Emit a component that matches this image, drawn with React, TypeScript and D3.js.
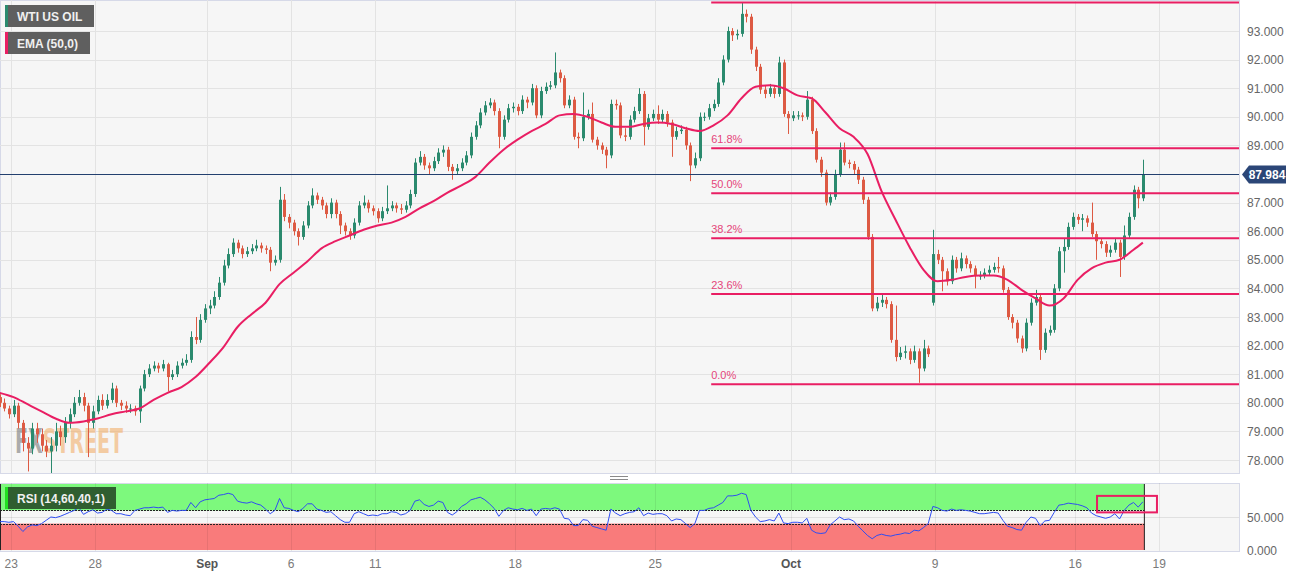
import { useEffect, useRef } from "react";
import * as d3 from "d3";

// 4H candles, Aug 22 - Oct 18 (open = previous close unless listed in gapOpens)
const firstOpen = 80.2;
const closes = [
  80.0, 79.8, 79.6, 79.9, 79.3, 78.6, 78.4, 79.1, 78.9, 78.5,
  78.3, 78.5, 79.0, 78.8, 79.3, 79.6, 80.0, 80.2, 79.9, 79.3,
  79.7, 80.1, 79.9, 80.1, 80.5, 80.0, 79.9, 79.8, 79.8, 79.7,
  80.5, 81.0, 81.2, 81.3, 81.2, 81.35, 80.9, 81.0, 81.3, 81.4,
  81.5, 82.3, 82.2, 82.9, 83.3, 83.4, 83.7, 84.2, 84.8, 85.2,
  85.6, 85.4, 85.2, 85.3, 85.4, 85.5, 85.4, 85.35, 84.9, 85.0,
  87.1, 86.5, 86.3, 86.0, 85.8, 86.2, 86.9, 87.25, 87.1, 86.9,
  86.6, 87.0, 86.6, 86.2, 86.0, 85.85, 86.3, 86.9, 87.0, 86.8,
  86.7, 86.45, 86.7, 86.8, 86.9, 86.8, 86.75, 86.9, 87.3, 88.4,
  88.6, 88.3, 88.2, 88.45, 88.75, 88.85, 88.25, 88.1, 88.2, 88.4,
  88.65, 89.3, 89.7, 90.15, 90.4, 90.5, 90.2, 89.3, 89.9, 90.3,
  90.35, 90.2, 90.6, 90.5, 91.0, 90.05, 90.9, 91.05, 91.1, 91.55,
  91.35, 90.4, 90.6, 89.3, 89.25, 90.0, 90.1, 89.2, 89.0, 88.85,
  88.65, 90.45, 90.4, 89.35, 89.3, 89.9, 90.2, 90.8, 89.65, 89.95,
  90.1, 89.9, 90.1, 89.8, 89.3, 89.5, 89.55, 89.0, 88.3, 88.55,
  90.0, 90.0, 90.3, 90.45, 91.2, 92.0, 93.0, 92.85, 92.9, 93.6,
  93.5, 92.35, 91.75, 90.95, 90.8, 91.0, 90.8, 91.9, 90.1, 89.95,
  90.05, 90.05, 90.0, 90.6, 89.5, 88.5, 88.05, 87.0, 87.2, 88.0,
  88.85, 88.4, 88.35, 88.15, 87.8, 87.1, 85.8, 83.3, 83.5, 83.6,
  83.45, 82.2, 81.6, 81.75, 81.8, 81.5, 81.8, 81.2, 81.9, 81.7,
  85.2, 85.0, 84.6, 84.25, 85.0, 84.7, 85.05, 84.85, 84.7, 84.45,
  84.45, 84.55, 84.65, 84.75, 84.7, 83.95, 83.0, 82.8, 82.25, 81.9,
  82.8, 83.5, 83.7, 81.85, 82.45, 82.55, 84.0, 85.3, 85.45, 86.15,
  86.5, 86.4, 86.45, 86.3, 85.9, 85.65, 85.55, 85.25, 85.35, 85.6,
  85.1, 85.85, 86.5, 87.45, 87.15, 87.984,
];
const highs = [
  80.3, 80.15, 79.9, 80.1, 80.0, 79.4, 78.8, 79.3, 79.3, 79.1,
  78.7, 78.8, 79.3, 79.2, 79.5, 79.8, 80.2, 80.45, 80.35, 80.0,
  79.9, 80.25, 80.3, 80.3, 80.7, 80.6, 80.1, 80.05, 79.95, 79.9,
  80.6, 81.15, 81.35, 81.45, 81.4, 81.5, 81.4, 81.15, 81.45, 81.55,
  81.7, 82.5, 83.0, 83.1, 83.45, 83.6, 83.9, 84.4, 85.0, 85.4,
  85.75, 85.7, 85.5, 85.45, 85.55, 85.7, 85.6, 85.5, 85.45, 85.15,
  87.55, 87.3, 86.6, 86.4, 86.1, 86.35, 87.05, 87.5, 87.35, 87.2,
  87.0, 87.15, 87.1, 86.7, 86.3, 86.1, 86.45, 87.05, 87.25, 87.1,
  86.9, 86.8, 86.85, 87.6, 87.05, 87.0, 86.95, 87.05, 87.45, 88.55,
  88.8, 88.7, 88.4, 88.6, 88.9, 89.0, 88.95, 88.35, 88.35, 88.55,
  88.8, 89.45, 89.85, 90.3, 90.55, 90.65, 90.6, 90.3, 90.05, 90.45,
  90.5, 90.45, 90.75, 90.7, 91.15, 91.1, 91.05, 91.2, 91.25, 92.25,
  91.65, 91.45, 90.75, 90.7, 89.45, 90.85, 90.25, 90.5, 89.3, 89.1,
  88.95, 90.6, 90.6, 90.5, 89.6, 90.05, 90.35, 91.0, 90.9, 90.1,
  90.25, 90.4, 90.25, 90.2, 89.9, 89.65, 89.7, 89.65, 89.1, 88.75,
  90.15, 90.15, 90.45, 90.6, 91.35, 92.15, 93.15, 93.1, 93.05, 94.0,
  93.75, 93.6, 92.45, 91.85, 91.1, 91.15, 91.1, 92.1, 92.0, 90.2,
  90.2, 90.2, 90.15, 90.9, 90.7, 89.6, 88.6, 88.15, 87.35, 88.15,
  89.1, 89.1, 88.5, 88.45, 88.25, 87.9, 87.2, 85.9, 83.7, 83.8,
  83.7, 83.55, 83.4, 81.95, 82.0, 81.9, 82.0, 81.9, 82.2, 82.0,
  86.05, 85.35, 85.1, 84.7, 85.15, 85.1, 85.25, 85.15, 84.95, 84.8,
  84.6, 84.7, 84.8, 84.9, 85.1, 84.8, 84.05, 83.1, 82.9, 82.35,
  82.95, 83.65, 83.95, 83.8, 82.6, 82.7, 84.15, 85.45, 85.75, 86.3,
  86.65, 86.6, 86.6, 86.55, 87.0, 86.0, 85.75, 85.65, 85.5, 85.75,
  85.7, 86.2, 86.65, 87.6, 87.55, 88.5,
];
const lows = [
  79.85, 79.7, 79.45, 79.5, 79.1, 78.3, 77.6, 78.2, 78.6, 78.3,
  78.1, 77.5, 78.3, 78.5, 78.6, 79.1, 79.5, 79.9, 79.7, 78.1,
  79.1, 79.6, 79.75, 79.8, 80.0, 79.85, 79.75, 79.65, 79.65, 79.55,
  79.3, 80.4, 80.9, 81.1, 81.05, 81.1, 80.4, 80.8, 80.9, 81.2,
  81.3, 81.4, 82.05, 82.1, 82.8, 83.1, 83.3, 83.6, 84.1, 84.7,
  85.1, 85.25, 85.05, 85.1, 85.2, 85.3, 85.25, 85.2, 84.6, 84.8,
  84.9, 86.35, 86.1, 85.85, 85.5, 85.7, 86.1, 86.8, 86.95, 86.75,
  86.45, 86.45, 86.45, 85.9, 85.85, 85.7, 85.75, 86.2, 86.8, 86.65,
  86.55, 86.3, 86.35, 86.6, 86.7, 86.65, 86.6, 86.65, 86.8, 87.2,
  88.3, 88.15, 88.0, 88.1, 88.35, 88.6, 88.1, 87.8, 88.0, 88.1,
  88.3, 88.55, 89.2, 89.6, 90.05, 90.3, 90.05, 88.9, 89.2, 89.8,
  90.15, 90.05, 90.1, 90.3, 90.4, 89.95, 89.95, 90.8, 90.95, 91.0,
  91.2, 90.3, 90.3, 89.2, 88.9, 89.15, 89.9, 89.1, 88.85, 88.7,
  88.2, 88.55, 90.25, 89.25, 89.15, 89.2, 89.8, 90.1, 89.0, 89.55,
  89.85, 89.75, 89.8, 89.65, 88.6, 89.2, 89.4, 88.85, 87.75, 88.2,
  88.45, 89.85, 89.9, 90.2, 90.35, 91.1, 91.9, 92.65, 92.7, 92.8,
  93.3, 92.2, 91.6, 90.8, 90.65, 90.7, 90.65, 90.7, 90.0, 89.4,
  89.85, 89.9, 89.85, 89.9, 89.4, 88.4, 87.9, 86.9, 86.9, 87.1,
  87.9, 88.3, 88.2, 88.0, 87.65, 86.95, 85.7, 83.2, 83.2, 83.35,
  83.3, 82.1, 81.45, 81.5, 81.55, 81.35, 81.4, 80.7, 81.1, 81.6,
  83.4, 84.85, 83.9, 84.1, 84.15, 84.55, 84.6, 84.7, 84.55, 84.0,
  84.3, 84.35, 84.45, 84.55, 84.55, 83.85, 82.9, 82.6, 82.1, 81.75,
  81.8, 82.7, 83.4, 81.5, 81.75, 82.35, 82.45, 83.9, 84.55, 85.35,
  86.05, 86.25, 86.0, 86.15, 85.8, 85.0, 85.4, 85.1, 85.1, 85.25,
  84.4, 85.0, 85.75, 86.4, 86.8, 87.05,
];
// weekend gap openings: [candle index, open]
const gapOpens: [number, number][] = [[200, 83.5]];

// EMA(50) read every 3rd candle (last point = last candle)
const emaStep = 3;
const emaValues = [
  80.35, 80.2, 79.95, 79.7, 79.45, 79.3, 79.35, 79.45, 79.6, 79.7,
  79.8, 80.1, 80.35, 80.55, 80.9, 81.4, 81.95, 82.65, 83.1, 83.5,
  84.15, 84.55, 84.95, 85.4, 85.65, 85.85, 86.05, 86.2, 86.3, 86.5,
  86.8, 87.05, 87.35, 87.6, 87.9, 88.4, 88.85, 89.2, 89.5, 89.75,
  90.05, 90.1, 90.0, 89.8, 89.65, 89.65, 89.75, 89.8, 89.75, 89.6,
  89.5, 89.7, 90.05, 90.65, 91.05, 91.1, 91.0, 90.75, 90.65, 90.15,
  89.6, 89.3, 88.7, 87.4, 86.4, 85.45, 84.65, 84.25, 84.3, 84.4,
  84.45, 84.45, 84.3, 83.95, 83.65, 83.4, 83.65, 84.3, 84.7, 84.9,
  85.0, 85.35, 85.6,
];

// RSI(14), one value per candle
const rsiValues = [
  43, 43, 42, 43, 36, 28, 35, 38, 37, 40,
  45, 50, 49, 51, 54, 57, 60, 64, 54, 58,
  61, 56, 57, 62, 60, 55, 55, 53, 52, 60,
  62, 64, 64, 65, 64, 65, 57, 60, 59, 60,
  60, 72, 64, 73, 76, 77, 78, 83, 84, 86,
  84, 74, 72, 71, 73, 70, 68, 62, 55, 60,
  78, 64, 63, 60, 58, 63, 70, 70, 62, 60,
  57, 58, 52, 46, 42, 42, 55, 58, 55, 52,
  53, 52, 55, 55, 58, 57, 53, 55, 60, 74,
  76, 69, 66, 68, 74, 72, 57, 53, 58, 66,
  70, 76, 78, 80, 76, 70, 63, 51, 60, 64,
  62, 61, 63, 60, 62, 52, 62, 63, 62, 64,
  62, 48, 47, 37, 37, 46, 45, 36, 34, 32,
  30, 62, 56, 52, 55, 57, 58, 64, 52, 56,
  54, 55, 55, 52, 44, 47, 46, 40, 34, 40,
  60, 60, 63, 64, 68, 72, 82, 82, 83, 86,
  84, 60, 50, 43, 44, 46, 44, 56, 41, 40,
  42, 42, 41, 48, 30, 26, 25, 26, 38, 44,
  50, 46, 47, 44, 36, 29, 22, 17, 22, 24,
  22, 21, 23, 24, 26, 25, 30, 29, 34, 40,
  66, 64, 60, 59, 62, 60, 61, 60, 59, 57,
  55, 55, 56, 57, 56, 45, 36, 34, 31, 30,
  42, 50, 48, 37, 44, 45, 57, 68, 69, 71,
  70, 69, 67, 64, 56, 52, 50, 48, 50, 55,
  47, 60, 68, 72, 65, 73,
];

const priceTicks = [78, 79, 80, 81, 82, 83, 84, 85, 86, 87, 88, 89, 90, 91, 92, 93];
const rsiTicks = [0, 50];
const dateLabels = ["23", "28", "Sep", "6", "11", "18", "25", "Oct", "9", "16", "19"];
const dateDays = [0, 3, 7, 10, 13, 18, 23, 27.85, 33, 38, 41];
const monthLabels = ["Sep", "Oct"];

const fibLevels = [0, 23.6, 38.2, 50, 61.8, 100];
const fibLow = 80.65;
const fibHigh = 94.0;
const fibStartDay = 25;

const lastPrice = 87.984;
const rsiUpper = 60;
const rsiLower = 40;
// highlighted RSI zone: [fromDay, toDay, top, bottom]
const rsiBox = [38.78, 40.92, 82, 57];
const candlesPerDay = 6;

const W = 1310;
const H = 577;

export default function App() {
  const svgRef = useRef<SVGSVGElement>(null);

  useEffect(() => {
    if (!svgRef.current) return;
    const svg = d3.select(svgRef.current);
    svg.selectAll("*").remove();

    const plotRight = 1239;
    const mainBottom = 473;
    const rsiTop = 483;
    const rsiBottom = 551;
    const font = "'Liberation Sans', Arial, sans-serif";
    const pink = "#e91e63";
    const up = "#2b8a6e";
    const down = "#dd5a43";

    const x = d3.scaleLinear().domain([0, 41]).range([11.2, 1159.2]);
    const candleX = (i: number) => x((i + 0.5) / candlesPerDay - 0.5);
    const y = d3.scaleLinear().domain([78, 93]).range([460, 31]);
    const yr = d3.scaleLinear().domain([0, 100]).range([550, 484]);
    const lastX = candleX(closes.length - 1) + 1.5;

    const defs = svg.append("defs");
    defs.append("clipPath").attr("id", "main-clip")
      .append("rect").attr("x", 0).attr("y", 0).attr("width", plotRight).attr("height", mainBottom);
    defs.append("clipPath").attr("id", "rsi-clip")
      .append("rect").attr("x", 0).attr("y", rsiTop).attr("width", plotRight).attr("height", rsiBottom - rsiTop);

    svg.append("rect").attr("width", W).attr("height", H).attr("fill", "#fff");

    // Main panel
    svg.append("rect").attr("x", 0.5).attr("y", 0.5).attr("width", plotRight).attr("height", mainBottom)
      .attr("fill", "#f6f6f6").attr("stroke", "#d6d9e8");

    const main = svg.append("g").attr("clip-path", "url(#main-clip)");

    // Grid
    main.selectAll(".hgrid").data(priceTicks).enter().append("line")
      .attr("x1", 0).attr("x2", plotRight)
      .attr("y1", (d) => Math.round(y(d)) + 0.5).attr("y2", (d) => Math.round(y(d)) + 0.5)
      .attr("stroke", "#e3e3e3");
    main.selectAll(".vgrid").data(dateDays).enter().append("line")
      .attr("x1", (d) => Math.round(x(d)) + 0.5).attr("x2", (d) => Math.round(x(d)) + 0.5)
      .attr("y1", 0).attr("y2", mainBottom)
      .attr("stroke", "#e3e3e3");

    // Watermark (one text, two colours)
    const wm = main.append("text").attr("x", 15).attr("y", 453).attr("opacity", 0.55)
      .attr("textLength", 108).attr("lengthAdjust", "spacingAndGlyphs")
      .style("font-family", "'DejaVu Sans Condensed', 'DejaVu Sans', sans-serif")
      .style("font-weight", "bold").style("font-size", "34px");
    wm.append("tspan").attr("fill", "#6f6f6f").text("FX");
    wm.append("tspan").attr("fill", "#f2a95e").text("STREET");

    // Candles
    const gapMap = new Map(gapOpens);
    const candles = closes.map((c, i) => ({
      i,
      o: gapMap.get(i) ?? (i === 0 ? firstOpen : closes[i - 1]),
      c,
      h: highs[i],
      l: lows[i],
    }));
    const cg = main.selectAll(".candle").data(candles).enter().append("g");
    cg.append("line")
      .attr("x1", (d) => Math.round(candleX(d.i)) + 0.5)
      .attr("x2", (d) => Math.round(candleX(d.i)) + 0.5)
      .attr("y1", (d) => y(d.h)).attr("y2", (d) => y(d.l))
      .attr("stroke", (d) => (d.c >= d.o ? up : down)).attr("stroke-width", 1);
    cg.append("rect")
      .attr("x", (d) => Math.round(candleX(d.i)) - 1)
      .attr("width", 3)
      .attr("y", (d) => y(Math.max(d.o, d.c)))
      .attr("height", (d) => Math.max(1, Math.abs(y(d.o) - y(d.c))))
      .attr("fill", (d) => (d.c >= d.o ? up : down));

    // EMA
    const emaLine = d3.line<number>()
      .x((d, j) => candleX(Math.min(j * emaStep, closes.length - 1)))
      .y((d) => y(d))
      .curve(d3.curveMonotoneX);
    main.append("path").datum(emaValues).attr("fill", "none")
      .attr("stroke", pink).attr("stroke-width", 2).attr("d", emaLine);

    // Last price line
    main.append("line").attr("x1", 0).attr("x2", plotRight)
      .attr("y1", Math.round(y(lastPrice)) + 0.5).attr("y2", Math.round(y(lastPrice)) + 0.5)
      .attr("stroke", "#23406f").attr("stroke-width", 1);

    // Fibonacci retracement
    const fx0 = x(fibStartDay);
    const fib = main.selectAll(".fib").data(fibLevels).enter().append("g");
    fib.append("line").attr("x1", fx0).attr("x2", plotRight)
      .attr("y1", (d) => y(fibLow + ((fibHigh - fibLow) * d) / 100))
      .attr("y2", (d) => y(fibLow + ((fibHigh - fibLow) * d) / 100))
      .attr("stroke", pink).attr("stroke-width", 2);
    fib.append("text").attr("x", fx0).attr("y", (d) => y(fibLow + ((fibHigh - fibLow) * d) / 100) - 5)
      .attr("fill", "#e5457a").style("font-family", font).style("font-size", "11px")
      .text((d) => `${d3.format(".1f")(d)}%`);

    // Legend boxes
    const legend = [
      { label: "WTI US OIL", color: up, w: 89 },
      { label: "EMA (50,0)", color: pink, w: 85 },
    ];
    const lg = svg.selectAll(".legend").data(legend).enter().append("g")
      .attr("transform", (d, i) => `translate(5,${5 + i * 27})`);
    lg.append("rect").attr("width", (d) => d.w).attr("height", 22).attr("fill", "#5f5f5f");
    lg.append("rect").attr("width", 3).attr("height", 22).attr("fill", (d) => d.color);
    lg.append("text").attr("x", 12).attr("y", 15.5).attr("fill", "#f0f0f0")
      .style("font-family", font).style("font-size", "12px").style("font-weight", "bold")
      .text((d) => d.label);

    // Right price axis
    svg.selectAll(".ptick").data(priceTicks).enter().append("text")
      .attr("x", 1247).attr("y", (d) => y(d) + 4.5)
      .attr("fill", "#666").style("font-family", font).style("font-size", "12px")
      .text((d) => d3.format(".3f")(d));

    // Last price tag
    const ty = y(lastPrice);
    svg.append("path")
      .attr("d", `M1242,${ty} L1249,${ty - 9} L1286,${ty - 9} L1286,${ty + 9} L1249,${ty + 9} Z`)
      .attr("fill", "#2b4677");
    svg.append("text").attr("x", 1267).attr("y", ty + 4.5).attr("text-anchor", "middle")
      .attr("fill", "#fff").style("font-family", font).style("font-size", "12px").style("font-weight", "bold")
      .text(d3.format(".3f")(lastPrice));

    // Panel separator handle
    [476.5, 479.5].forEach((hy) => {
      svg.append("line").attr("x1", 610).attr("x2", 628).attr("y1", hy).attr("y2", hy)
        .attr("stroke", "#8a8a8a").attr("stroke-width", 1);
    });

    // RSI panel
    svg.append("rect").attr("x", 0.5).attr("y", rsiTop + 0.5).attr("width", plotRight).attr("height", rsiBottom - rsiTop)
      .attr("fill", "#f6f6f6").attr("stroke", "#d6d9e8");
    const rsi = svg.append("g").attr("clip-path", "url(#rsi-clip)");
    rsi.append("line").attr("x1", 0).attr("x2", plotRight)
      .attr("y1", Math.round(yr(50)) + 0.5).attr("y2", Math.round(yr(50)) + 0.5).attr("stroke", "#e0e0e0");
    rsi.append("rect").attr("x", 0).attr("y", yr(100)).attr("width", lastX)
      .attr("height", yr(rsiUpper) - yr(100)).attr("fill", "#7df97d");
    rsi.append("rect").attr("x", 0).attr("y", yr(rsiLower)).attr("width", lastX)
      .attr("height", yr(0) - yr(rsiLower)).attr("fill", "#f97b7b");
    rsi.selectAll(".rvgrid").data(dateDays).enter().append("line")
      .attr("x1", (d) => Math.round(x(d)) + 0.5).attr("x2", (d) => Math.round(x(d)) + 0.5)
      .attr("y1", rsiTop).attr("y2", rsiBottom)
      .attr("stroke", "rgba(0,0,0,0.07)");
    [rsiUpper, rsiLower].forEach((lvl) => {
      rsi.append("line").attr("x1", 0).attr("x2", lastX)
        .attr("y1", Math.round(yr(lvl)) + 0.5).attr("y2", Math.round(yr(lvl)) + 0.5)
        .attr("stroke", "#222").attr("stroke-dasharray", "2,1");
    });
    [0.5, lastX].forEach((vx) => {
      rsi.append("line").attr("x1", vx).attr("x2", vx).attr("y1", yr(100)).attr("y2", yr(0))
        .attr("stroke", "#222");
    });
    const rsiLine = d3.line<number>().x((d, i) => candleX(i)).y((d) => yr(d));
    rsi.append("path").datum(rsiValues).attr("fill", "none")
      .attr("stroke", "#2f4cf2").attr("stroke-width", 1).attr("d", rsiLine);
    rsi.append("rect")
      .attr("x", x(rsiBox[0])).attr("y", yr(rsiBox[2]))
      .attr("width", x(rsiBox[1]) - x(rsiBox[0])).attr("height", yr(rsiBox[3]) - yr(rsiBox[2]))
      .attr("fill", "none").attr("stroke", pink).attr("stroke-width", 2);

    // RSI label
    const rl = svg.append("g").attr("transform", "translate(5,487)");
    rl.append("rect").attr("width", 111).attr("height", 22).attr("fill", "#2f5e30");
    rl.append("rect").attr("width", 3).attr("height", 22).attr("fill", "#22e022");
    rl.append("text").attr("x", 12).attr("y", 15.5).attr("fill", "#f0f0f0")
      .style("font-family", font).style("font-size", "12px").style("font-weight", "bold")
      .text("RSI (14,60,40,1)");

    // RSI axis
    svg.selectAll(".rtick").data(rsiTicks).enter().append("text")
      .attr("x", 1247).attr("y", (d) => yr(d) + 4.5)
      .attr("fill", "#666").style("font-family", font).style("font-size", "12px")
      .text((d) => d3.format(".3f")(d));

    // Date axis
    svg.selectAll(".dtick").data(dateLabels).enter().append("text")
      .attr("x", (d, i) => x(dateDays[i])).attr("y", 568).attr("text-anchor", "middle")
      .attr("fill", (d) => (monthLabels.includes(d) ? "#555" : "#7a7a7a"))
      .style("font-weight", (d) => (monthLabels.includes(d) ? "bold" : "normal"))
      .style("font-family", font).style("font-size", "12px")
      .text((d) => d);
  }, []);

  return (
    <svg
      ref={svgRef}
      width={W}
      height={H}
      style={{ position: "absolute", left: 0, top: 0, display: "block" }}
    />
  );
}
